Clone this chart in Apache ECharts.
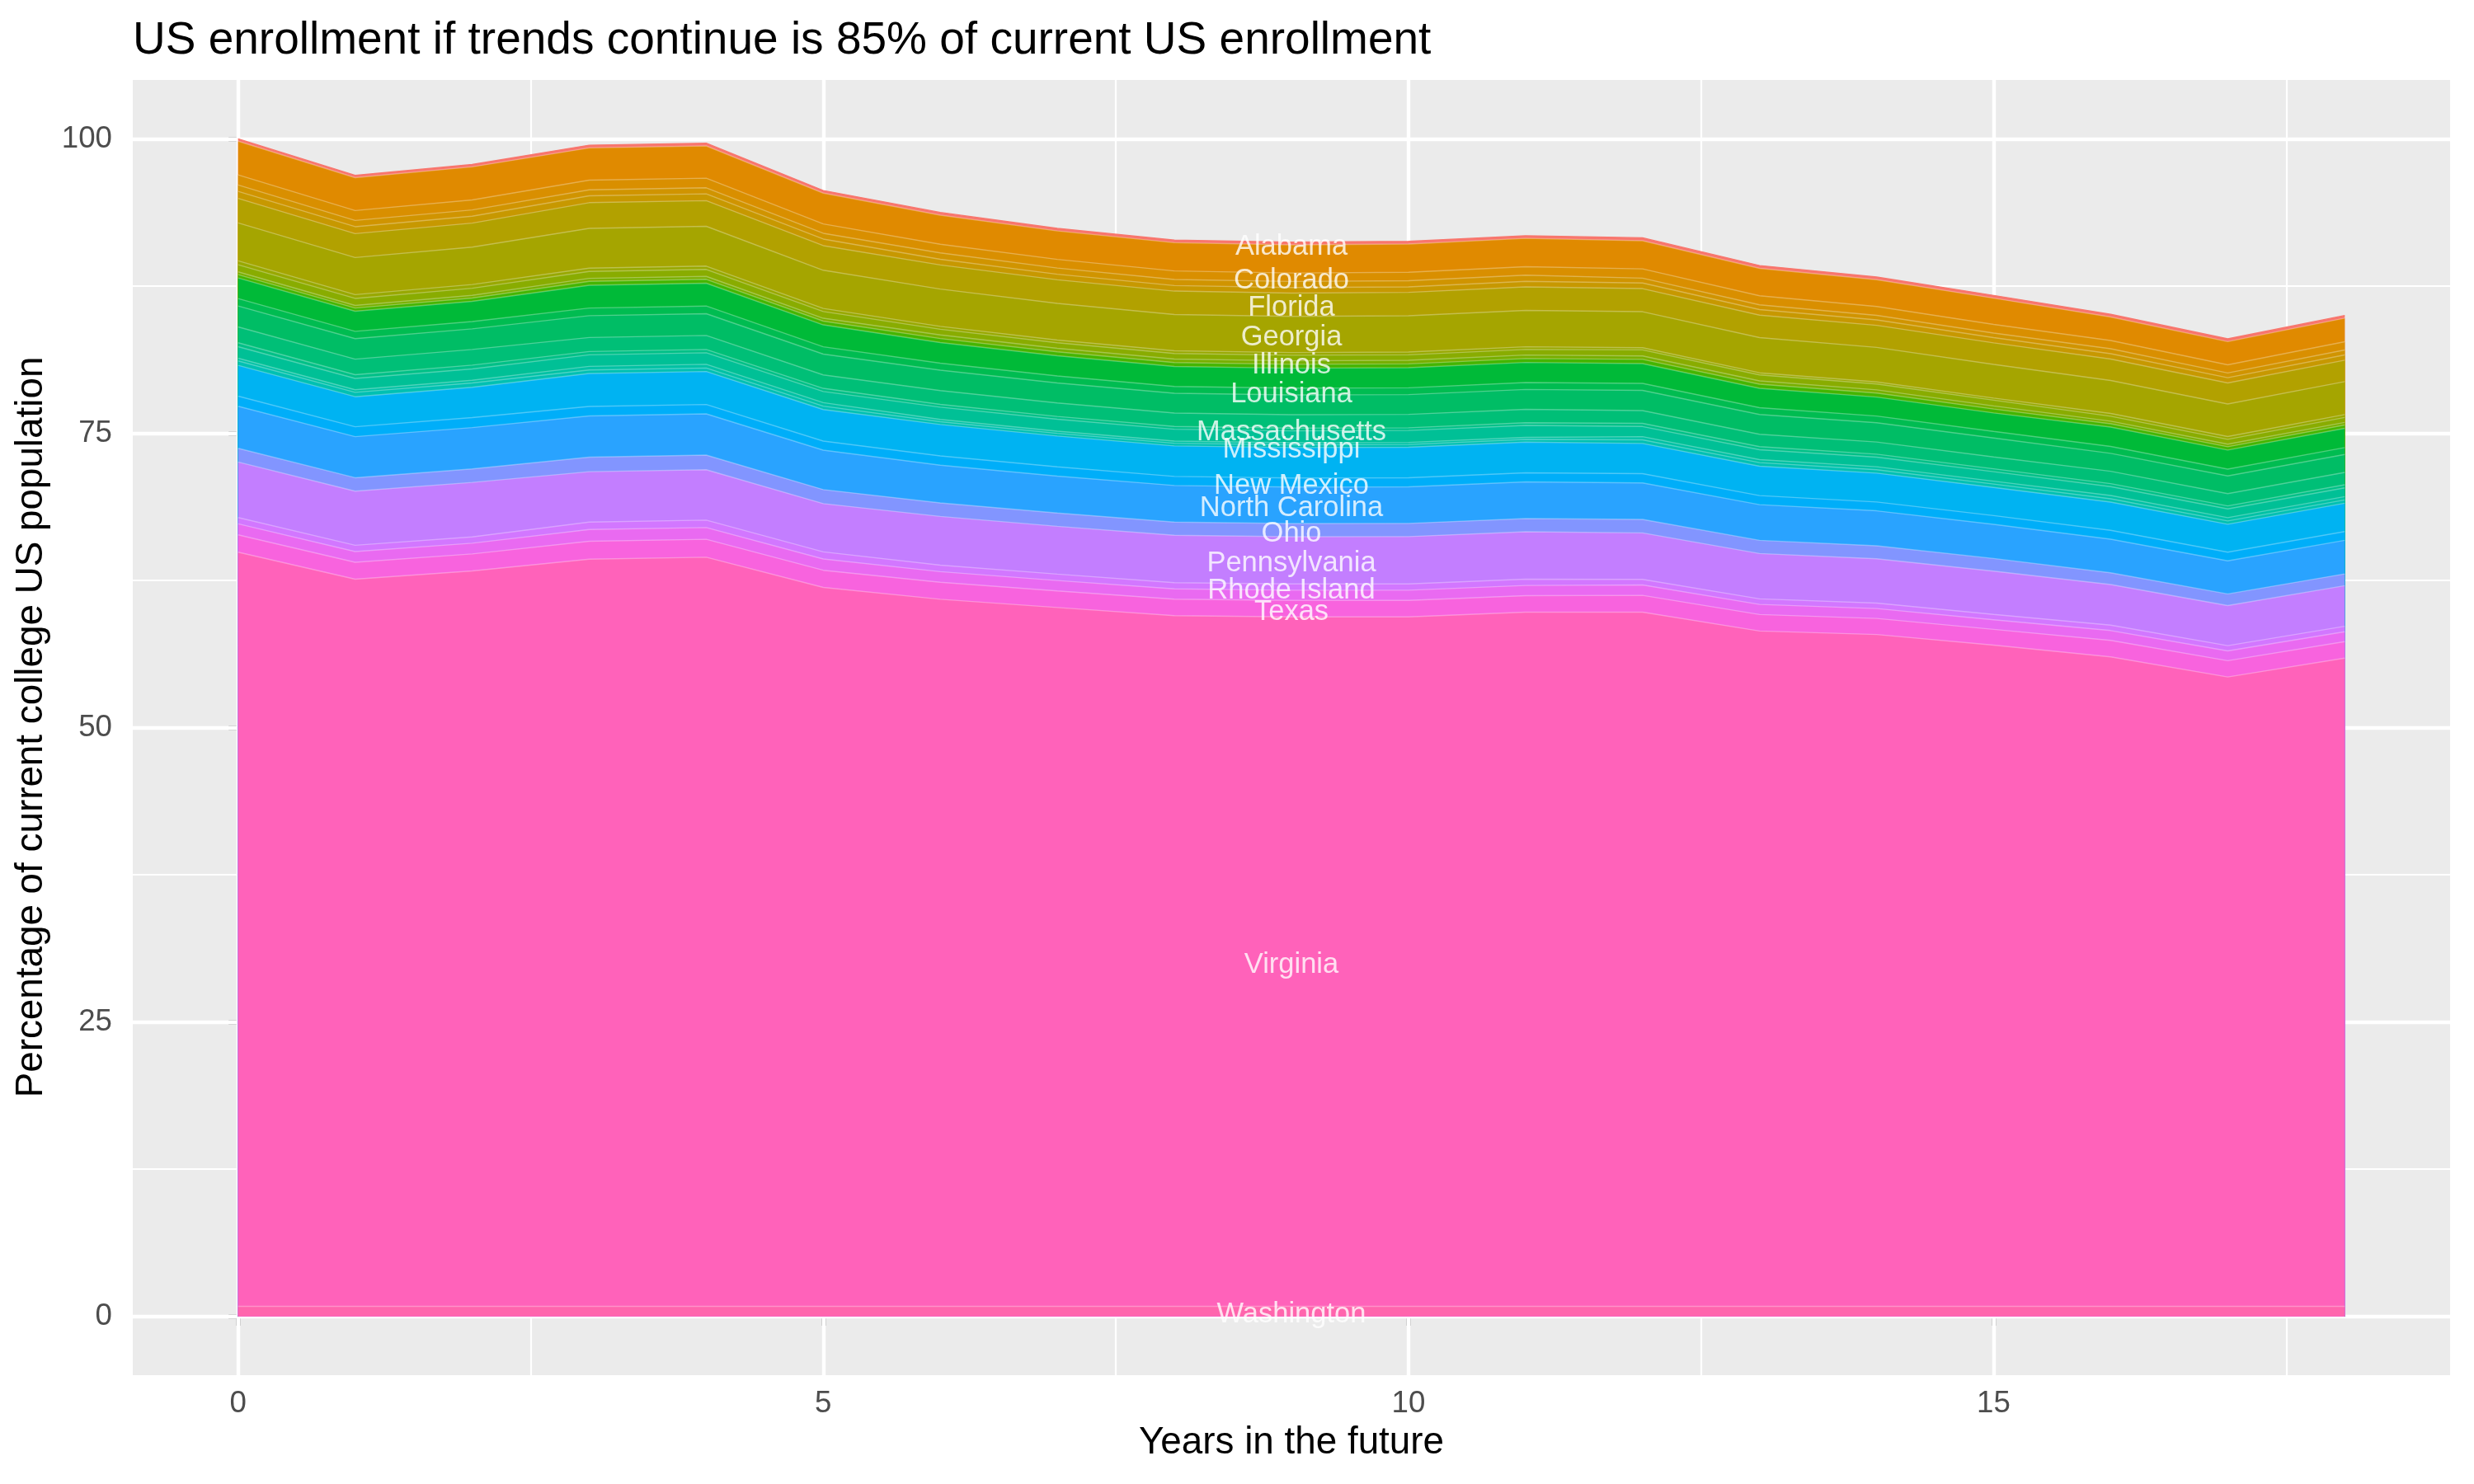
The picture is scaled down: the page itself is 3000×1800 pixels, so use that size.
<!DOCTYPE html>
<html><head><meta charset="utf-8">
<script src="https://cdn.jsdelivr.net/npm/echarts@6/dist/echarts.min.js"></script>
<style>html,body{margin:0;padding:0;background:#fff}#c{width:3000px;height:1800px}</style>
</head><body><div id="c"></div>
<script>
// ---------------- data ----------------
const years = [0,1,2,3,4,5,6,7,8,9,10,11,12,13,14,15,16,17,18];
const xTicks = [0,5,10,15];
const yTicks = [0,25,50,75,100];
const xMinor = [2.5,7.5,12.5,17.5];
const yMinor = [12.5,37.5,62.5,87.5];
const labelYear = 9;
const labelledStates = ['Alabama','Colorado','Florida','Georgia','Illinois','Louisiana','Massachusetts','Mississippi','New Mexico','North Carolina','Ohio','Pennsylvania','Rhode Island','Texas','Virginia','Washington'];

const washington    = [0.85,0.85,0.85,0.85,0.85,0.85,0.85,0.85,0.85,0.85,0.85,0.85,0.85,0.85,0.85,0.85,0.85,0.85,0.85];
const virginia      = [64.05,61.75,62.45,63.45,63.62,61.05,60.05,59.35,58.66,58.55,58.55,58.95,58.95,57.35,57.05,56.15,55.15,53.45,55.05];
const texas         = [1.47,1.44,1.45,1.52,1.52,1.46,1.44,1.41,1.40,1.40,1.40,1.40,1.43,1.40,1.37,1.34,1.40,1.38,1.40];
const southDakota   = [0.93,0.91,0.91,1.00,1.00,0.96,0.90,0.88,0.87,0.87,0.87,0.87,0.88,0.86,0.84,0.82,0.84,0.83,0.84];
const rhodeIsland   = [0.54,0.53,0.53,0.63,0.63,0.60,0.55,0.54,0.53,0.53,0.53,0.53,0.48,0.47,0.46,0.45,0.46,0.45,0.46];
const pennsylvania  = [4.71,4.60,4.63,4.28,4.28,4.10,4.14,4.06,4.02,4.01,4.02,4.03,3.94,3.85,3.77,3.68,3.45,3.40,3.45];
const ohio          = [1.17,1.14,1.15,1.24,1.24,1.19,1.15,1.13,1.12,1.12,1.12,1.12,1.15,1.12,1.10,1.07,1.00,0.99,1.00];
const northCarolina = [3.57,3.49,3.51,3.50,3.50,3.35,3.20,3.14,3.11,3.10,3.11,3.12,3.10,3.03,2.97,2.90,2.85,2.81,2.85];
const newMexico     = [0.86,0.84,0.85,0.80,0.80,0.77,0.79,0.78,0.77,0.77,0.77,0.77,0.79,0.77,0.75,0.74,0.75,0.74,0.75];
const newJersey     = [2.61,2.55,2.57,2.80,2.80,2.68,2.67,2.62,2.59,2.58,2.59,2.60,2.56,2.50,2.45,2.39,2.40,2.37,2.40];
const mississippi   = [0.38,0.37,0.37,0.30,0.30,0.29,0.24,0.23,0.23,0.23,0.23,0.23,0.31,0.30,0.29,0.29,0.28,0.28,0.28];
const minnesota     = [0.23,0.22,0.23,0.31,0.31,0.30,0.19,0.18,0.18,0.18,0.18,0.18,0.27,0.26,0.25,0.25,0.28,0.28,0.28];
const michigan      = [0.98,0.96,0.96,0.98,0.98,0.94,1.04,1.02,1.01,1.01,1.01,1.01,0.86,0.84,0.82,0.80,0.75,0.74,0.75];
const massachusetts = [0.33,0.32,0.32,0.28,0.28,0.27,0.24,0.23,0.23,0.23,0.23,0.23,0.27,0.26,0.25,0.25,0.26,0.26,0.26];
const maryland      = [1.35,1.32,1.33,1.19,1.19,1.14,1.17,1.15,1.14,1.14,1.14,1.14,1.08,1.05,1.03,1.00,1.05,1.04,1.05];
const maine         = [1.78,1.74,1.75,1.85,1.85,1.77,1.73,1.70,1.68,1.68,1.68,1.69,1.72,1.68,1.64,1.61,1.52,1.50,1.52];
const louisiana     = [0.63,0.62,0.62,0.65,0.65,0.62,0.60,0.59,0.58,0.58,0.58,0.58,0.59,0.58,0.57,0.56,0.59,0.58,0.59];
const kentucky      = [1.75,1.71,1.72,1.94,1.94,1.86,1.75,1.72,1.70,1.69,1.70,1.71,1.68,1.64,1.61,1.57,1.64,1.62,1.64];
const iowa          = [0.28,0.27,0.28,0.33,0.33,0.32,0.34,0.33,0.33,0.33,0.33,0.33,0.36,0.35,0.34,0.33,0.28,0.28,0.28];
const illinois      = [0.23,0.22,0.23,0.25,0.25,0.24,0.31,0.30,0.30,0.30,0.30,0.30,0.29,0.28,0.27,0.27,0.22,0.22,0.22];
const idaho         = [0.61,0.60,0.60,0.59,0.59,0.57,0.48,0.47,0.47,0.47,0.47,0.47,0.52,0.51,0.50,0.49,0.42,0.41,0.42];
const hawaii        = [0.33,0.32,0.32,0.28,0.28,0.27,0.24,0.23,0.23,0.23,0.23,0.23,0.18,0.18,0.18,0.17,0.24,0.24,0.24];
const georgia       = [3.22,3.15,3.17,3.38,3.38,3.24,3.17,3.11,3.08,3.07,3.08,3.09,3.06,2.99,2.93,2.86,2.80,2.76,2.80];
const florida       = [2.08,2.03,2.04,2.18,2.18,2.09,2.05,2.01,1.99,1.98,1.99,2.00,1.96,1.91,1.87,1.83,1.82,1.79,1.82];
const delaware      = [0.60,0.59,0.59,0.58,0.58,0.56,0.48,0.47,0.47,0.47,0.47,0.47,0.48,0.47,0.46,0.45,0.45,0.44,0.45];
const connecticut   = [0.54,0.53,0.53,0.51,0.51,0.49,0.54,0.53,0.52,0.52,0.52,0.52,0.41,0.40,0.39,0.38,0.42,0.41,0.42];
const colorado      = [0.86,0.84,0.85,0.82,0.82,0.79,0.74,0.73,0.72,0.72,0.72,0.72,0.79,0.77,0.75,0.74,0.70,0.69,0.70];
const california    = [2.86,2.79,2.81,2.74,2.74,2.62,2.47,2.42,2.40,2.39,2.40,2.41,2.39,2.33,2.28,2.23,2.00,1.97,2.00];
const alabama       = [0.20,0.20,0.20,0.23,0.23,0.22,0.23,0.22,0.22,0.22,0.22,0.22,0.25,0.24,0.23,0.23,0.23,0.23,0.23];

// stacking order: bottom first; third value = position of the state among 51 levels (for the hue palette)
const states = [
  ['Washington', washington, 48], ['Virginia', virginia, 47], ['Texas', texas, 44],
  ['South Dakota', southDakota, 42], ['Rhode Island', rhodeIsland, 40], ['Pennsylvania', pennsylvania, 39],
  ['Ohio', ohio, 36], ['North Carolina', northCarolina, 34], ['New Mexico', newMexico, 32],
  ['New Jersey', newJersey, 31], ['Mississippi', mississippi, 25], ['Minnesota', minnesota, 24],
  ['Michigan', michigan, 23], ['Massachusetts', massachusetts, 22], ['Maryland', maryland, 21],
  ['Maine', maine, 20], ['Louisiana', louisiana, 19], ['Kentucky', kentucky, 18],
  ['Iowa', iowa, 16], ['Illinois', illinois, 14], ['Idaho', idaho, 13], ['Hawaii', hawaii, 12],
  ['Georgia', georgia, 11], ['Florida', florida, 10], ['Delaware', delaware, 8],
  ['Connecticut', connecticut, 7], ['Colorado', colorado, 6], ['California', california, 5],
  ['Alabama', alabama, 1]
];
const nLevels = 51;

// ---------------- colours (ggplot2 hue palette, hcl c=100 l=65) ----------------
function hcl(h, c, l) {
  const WY = 100, Wu = 0.1978398, Wv = 0.4683363;
  const hr = h * Math.PI / 180;
  const U = c * Math.cos(hr), V = c * Math.sin(hr);
  const Y = WY * (l > 7.999592 ? Math.pow((l + 16) / 116, 3) : l / 903.3);
  const u = U / (13 * l) + Wu, v = V / (13 * l) + Wv;
  const X = 9 * Y * u / (4 * v);
  const Z = -X / 3 - 5 * Y + 3 * Y / v;
  const g = t => { t = t <= 0.0031308 ? 12.92 * t : 1.055 * Math.pow(t, 1 / 2.4) - 0.055; return Math.round(255 * Math.min(1, Math.max(0, t))); };
  const r = g((3.240479 * X - 1.537150 * Y - 0.498535 * Z) / WY);
  const gg = g((-0.969256 * X + 1.875992 * Y + 0.041556 * Z) / WY);
  const b = g((0.055648 * X - 0.204043 * Y + 1.057311 * Z) / WY);
  return 'rgb(' + r + ',' + gg + ',' + b + ')';
}
const hueOf = idx => (15 + (idx - 1) * 360 / nLevels) % 360;

// ---------------- cumulative stacking (position = stack) ----------------
const running = years.map(() => 0);
const stacked = states.map(([name, vals, idx]) => {
  const bottom = running.slice();
  vals.forEach((v, i) => { running[i] += v; });
  return { name, vals, idx, bottom, top: running.slice() };
});

const FONT = '"Liberation Sans", Arial, Helvetica, sans-serif';
const series = [];

// panel gridlines (drawn beneath the areas)
const gridLines = [];
xTicks.forEach(v => gridLines.push({ xAxis: v, lineStyle: { width: 4.4 } }));
xMinor.forEach(v => gridLines.push({ xAxis: v, lineStyle: { width: 2.2 } }));
yTicks.forEach(v => gridLines.push({ yAxis: v, lineStyle: { width: 4.4 } }));
yMinor.forEach(v => gridLines.push({ yAxis: v, lineStyle: { width: 2.2 } }));
series.push({
  type: 'line', name: '_grid', data: [[0, 0]], symbol: 'none', silent: true, z: 1,
  lineStyle: { opacity: 0 },
  markLine: { silent: true, symbol: ['none', 'none'], z: 1, animation: false, label: { show: false },
    lineStyle: { color: '#ffffff', type: 'solid' }, data: gridLines }
});

// areas: highest cumulative first so each lower band is painted over it
stacked.slice().reverse().forEach((s, k) => {
  const col = hcl(hueOf(s.idx), 100, 65);
  series.push({
    type: 'line', name: s.name, symbol: 'none', silent: true, z: 2,
    data: years.map((x, i) => [x, s.top[i]]),
    areaStyle: { color: col, opacity: 1, origin: 0 },
    lineStyle: { width: 1.4, color: k === 0 ? col : 'rgba(255,255,255,0.30)' }
  });
});

// text labels at the middle of each labelled band
const li = years.indexOf(labelYear);
const labelData = stacked.filter(s => labelledStates.includes(s.name))
  .map(s => ({ name: s.name, value: [labelYear, (s.bottom[li] + s.top[li]) / 2] }));
series.push({
  type: 'scatter', name: '_labels', data: labelData, symbolSize: 1, z: 10, silent: true,
  itemStyle: { color: 'rgba(0,0,0,0)' },
  label: { show: true, position: 'inside', offset: [0, 4], formatter: '{b}', color: '#ffffff', fontSize: 34.5, fontFamily: FONT }
});

// ---------------- chart ----------------
const chart = echarts.init(document.getElementById('c'), null, { renderer: 'canvas' });
chart.setOption({
  animation: false,
  backgroundColor: '#ffffff',
  grid: { left: 161, right: 29, top: 97, bottom: 132, show: true, backgroundColor: '#EBEBEB', borderWidth: 0, containLabel: false, outerBoundsMode: 'none' },
  xAxis: {
    type: 'value', min: -0.9, max: 18.9,
    axisLine: { show: false },
    axisTick: { show: true, length: 11.5, lineStyle: { color: '#333333', width: 4.4 }, customValues: xTicks },
    axisLabel: { customValues: xTicks, fontSize: 36.7, color: '#4D4D4D', margin: 16, fontFamily: FONT,
      formatter: v => (xTicks.includes(v) ? String(v) : '') },
    splitLine: { show: false }
  },
  yAxis: {
    type: 'value', min: -5, max: 105,
    axisLine: { show: false },
    axisTick: { show: true, length: 11.5, lineStyle: { color: '#333333', width: 4.4 }, customValues: yTicks },
    axisLabel: { customValues: yTicks, fontSize: 36.7, color: '#4D4D4D', margin: 25, fontFamily: FONT,
      formatter: v => (yTicks.includes(v) ? String(v) : '') },
    splitLine: { show: false }
  },
  graphic: [
    { type: 'text', left: 161, top: 22, style: { text: 'US enrollment if trends continue is 85% of current US enrollment', fontSize: 55, fontFamily: FONT, fill: '#000000' } },
    { type: 'text', x: 1566, y: 1750, style: { text: 'Years in the future', fontSize: 45.8, fontFamily: FONT, fill: '#000000', align: 'center', verticalAlign: 'middle' } },
    { type: 'text', x: 38, y: 882, rotation: Math.PI / 2, style: { text: 'Percentage of current college US population', fontSize: 45.8, fontFamily: FONT, fill: '#000000', align: 'center', verticalAlign: 'middle' } }
  ],
  series: series
});
</script>
</body></html>
